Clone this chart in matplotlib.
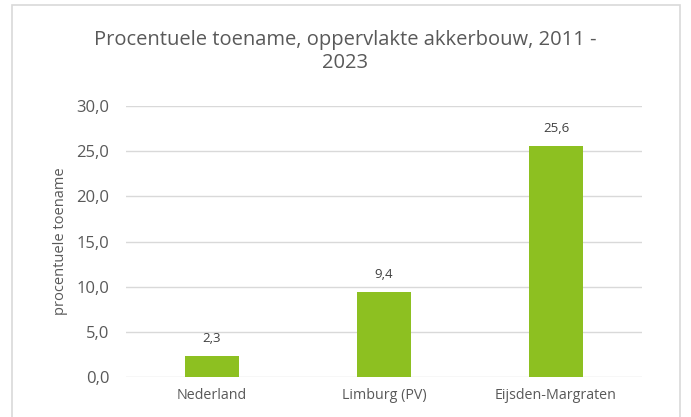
import matplotlib.pyplot as plt
from matplotlib.patches import Rectangle

categories = ['Nederland', 'Limburg (PV)', 'Eijsden-Margraten']
values = [2.3, 9.4, 25.6]
yticks = [0, 5, 10, 15, 20, 25, 30]

green = '#8dc021'
text_col = '#595959'
grid_col = '#d9d9d9'

plt.rcParams['font.family'] = ['Open Sans', 'DejaVu Sans']

fig = plt.figure(figsize=(6.91, 4.17), dpi=100)
fig.patches.append(Rectangle((12 / 691, -0.01), 668 / 691, 1 - 5 / 417 + 0.01,
                             transform=fig.transFigure, fill=False,
                             edgecolor=grid_col, linewidth=1.2))

ax = fig.add_axes([126 / 691, 1 - 377 / 417, 516 / 691, 271 / 417])
x = range(len(categories))
bars = ax.bar(x, values, width=0.314, color=green, zorder=3)

for b, v in zip(bars, values):
    ax.text(b.get_x() + b.get_width() / 2, v + 1.2, f'{v:.1f}'.replace('.', ','),
            ha='center', va='bottom', fontsize=9.5, color='#404040')

ax.set_xlim(-0.5, 2.5)
ax.set_ylim(0, 30)
ax.set_yticks(yticks)
ax.set_yticklabels([f'{t:.1f}'.replace('.', ',') for t in yticks], fontsize=12, color=text_col)
ax.set_xticks(list(x))
ax.set_xticklabels(categories, fontsize=10.3, color=text_col)
ax.tick_params(length=0, pad=12)
ax.tick_params(axis='x', pad=8)
ax.grid(axis='y', color=grid_col, linewidth=1, zorder=0)
for s in ax.spines.values():
    s.set_visible(False)

ax.set_ylabel('procentuele toename', fontsize=10.5, color=text_col, labelpad=6)

fig.text(0.5, 1 - 40 / 417, 'Procentuele toename, oppervlakte akkerbouw, 2011 -',
         ha='center', va='center', fontsize=14.5, color=text_col)
fig.text(0.5, 1 - 63 / 417, '2023', ha='center', va='center', fontsize=14.5, color=text_col)

fig.savefig('out.png', dpi=100)
